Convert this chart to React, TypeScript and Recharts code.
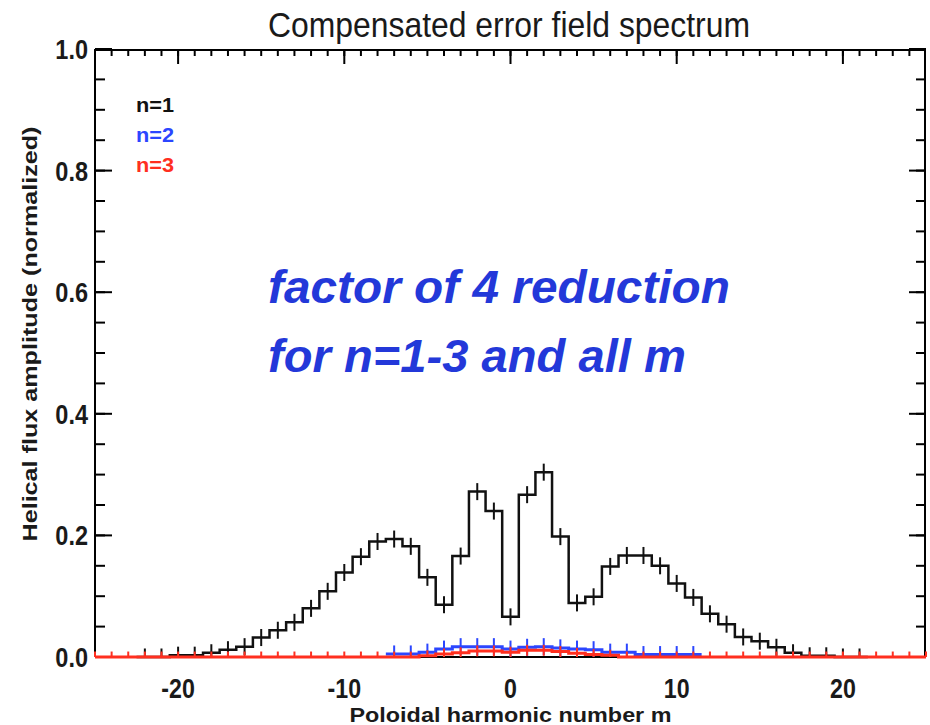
import React from 'react';
import { LineChart, Line, XAxis, YAxis, ErrorBar, Legend } from 'recharts';

const FONT = '"Liberation Sans", Arial, Helvetica, sans-serif';

// n=1 spectrum (poloidal harmonic m -> normalized amplitude)
const N1_M = [-22, -21, -20, -19, -18, -17, -16, -15, -14, -13, -12, -11, -10, -9, -8, -7, -6, -5, -4, -3, -2, -1, 0, 1, 2, 3, 4, 5, 6, 7, 8, 9, 10, 11, 12, 13, 14, 15, 16, 17, 18, 19, 20, 21];
const N1_VALUES = [0, 0, 0.003, 0.003, 0.007, 0.012, 0.017, 0.032, 0.044, 0.057, 0.08, 0.108, 0.139, 0.165, 0.19, 0.194, 0.182, 0.131, 0.086, 0.166, 0.272, 0.24, 0.066, 0.267, 0.304, 0.198, 0.089, 0.099, 0.149, 0.167, 0.167, 0.15, 0.121, 0.098, 0.071, 0.054, 0.033, 0.026, 0.016, 0.007, 0.002, 0.002, 0, 0];
const N1_ERR = 0.014;

// n=2 spectrum
const N2_M = [-7, -6, -5, -4, -3, -2, -1, 0, 1, 2, 3, 4, 5, 6, 7, 8, 9, 10, 11];
const N2_VALUES = [0.005, 0.005, 0.008, 0.013, 0.017, 0.017, 0.017, 0.013, 0.016, 0.017, 0.015, 0.013, 0.012, 0.008, 0.008, 0.004, 0.004, 0.004, 0.004];
const N2_ERR = 0.014;

// n=3 spectrum
const N3_M = [-25, -24, -23, -22, -21, -20, -19, -18, -17, -16, -15, -14, -13, -12, -11, -10, -9, -8, -7, -6, -5, -4, -3, -2, -1, 0, 1, 2, 3, 4, 5, 6, 7, 8, 9, 10, 11, 12, 13, 14, 15, 16, 17, 18, 19, 20, 21, 22, 23, 24, 25];
const N3_VALUES = [0, 0, 0, 0, 0, 0, 0, 0, 0, 0, 0, 0, 0, 0, 0, 0, 0, 0, 0, 0, 0.002, 0.005, 0.007, 0.01, 0.01, 0.008, 0.011, 0.011, 0.009, 0.006, 0.004, 0.003, 0, 0, 0, 0, 0, 0, 0, 0, 0, 0, 0, 0, 0, 0, 0, 0, 0, 0, 0];
const N3_ERR = 0.009;

const X_MAJOR_TICKS = [-20, -10, 0, 10, 20];
const X_MINOR_TICKS = Array.from({ length: 49 }, (_, i) => i - 24);
const Y_MAJOR_TICKS = [0, 0.2, 0.4, 0.6, 0.8, 1.0];
const Y_MINOR_TICKS = Array.from({ length: 21 }, (_, i) => Math.round(i * 5) / 100);

const TITLE = 'Compensated error field spectrum';
const X_LABEL = 'Poloidal harmonic number m';
const Y_LABEL = 'Helical flux amplitude (normalized)';
const NOTE_LINES = ['factor of 4 reduction', 'for n=1-3 and all m'];

const COLORS = { n1: '#111111', n2: '#2b46ff', n3: '#ff2f1f', note: '#2338d9' };

type Pt = { m: number; v: number; e?: [number, number] };

function buildSteps(ms: number[], vals: number[], err: number, pad: boolean): Pt[] {
  const pts: Pt[] = ms.map((m, i) => ({ m, v: vals[i], e: [Math.min(vals[i], err), err] as [number, number] }));
  if (pad) {
    pts.unshift({ m: ms[0] - 0.5, v: vals[0] });
    pts.push({ m: ms[ms.length - 1] + 0.5, v: vals[vals.length - 1] });
  }
  return pts;
}

const n1Data = buildSteps(N1_M, N1_VALUES, N1_ERR, true);
const n2Data = buildSteps(N2_M, N2_VALUES, N2_ERR, true);
const n3Data = buildSteps(N3_M, N3_VALUES, N3_ERR, false);

const NoLabel = () => <g />;

const XTick = (props: any) => {
  const { x, y, payload } = props;
  return (
    <text
      transform={`translate(${x},${y + 41}) scale(0.86,1)`}
      textAnchor="middle"
      fontSize={27}
      fontWeight="bold"
      fontFamily={FONT}
      fill="#1a1a1a"
    >
      {String(payload.value)}
    </text>
  );
};

const YTick = (props: any) => {
  const { x, y, payload } = props;
  return (
    <text
      transform={`translate(${x},${y + 10}) scale(0.84,1)`}
      textAnchor="end"
      fontSize={28}
      fontWeight="bold"
      fontFamily={FONT}
      fill="#1a1a1a"
    >
      {Number(payload.value).toFixed(1)}
    </text>
  );
};

const XLabel = (props: any) => {
  const vb = props.viewBox || { x: 95, y: 657, width: 831, height: 68 };
  return (
    <text
      x={vb.x + vb.width / 2}
      y={vb.y + 64.5}
      textAnchor="middle"
      fontSize={21}
      fontWeight="bold"
      fontFamily={FONT}
      fill="#1a1a1a"
      textLength={322}
      lengthAdjust="spacingAndGlyphs"
    >
      {X_LABEL}
    </text>
  );
};

const YLabel = (props: any) => {
  const vb = props.viewBox || { x: 0, y: 49, width: 95, height: 608 };
  const cx = vb.x + 36.7;
  const cy = vb.y + vb.height / 2 - 19;
  return (
    <text
      transform={`translate(${cx},${cy}) rotate(-90)`}
      textAnchor="middle"
      fontSize={21}
      fontWeight="bold"
      fontFamily={FONT}
      fill="#1a1a1a"
      textLength={415}
      lengthAdjust="spacingAndGlyphs"
    >
      {Y_LABEL}
    </text>
  );
};

const LegendContent = (props: any) => {
  const payload = props.payload || [];
  return (
    <svg width={70} height={95} style={{ display: 'block', overflow: 'visible' }}>
      {payload.map((entry: any, i: number) => (
        <text
          key={i}
          x={6}
          y={22 + i * 30}
          fontSize={21}
          fontWeight="bold"
          fontFamily={FONT}
          fill={entry.color}
          textLength={38}
          lengthAdjust="spacingAndGlyphs"
        >
          {entry.value}
        </text>
      ))}
    </svg>
  );
};

const tickStroke = { stroke: '#000', strokeWidth: 2 };
const axisStroke = { stroke: '#000', strokeWidth: 2 };

export default function App() {
  return (
    <div style={{ position: 'absolute', left: 0, top: 0, width: 930, height: 725, background: '#fff' }}>
      <LineChart width={930} height={725} margin={{ top: 49, right: 4, bottom: 0, left: 0 }}>
        {/* main axes */}
        <XAxis
          xAxisId="b"
          type="number"
          dataKey="m"
          orientation="bottom"
          domain={[-25, 25]}
          ticks={X_MAJOR_TICKS}
          interval={0}
          height={68}
          tickLine={false}
          tickSize={0}
          tickMargin={0}
          axisLine={axisStroke}
          tick={<XTick />}
          label={<XLabel />}
        />
        <XAxis xAxisId="tMin" type="number" dataKey="m" orientation="top" mirror height={1} domain={[-25, 25]} allowDataOverflow ticks={X_MINOR_TICKS} interval={0} tick={<NoLabel />} tickSize={6} tickLine={tickStroke} axisLine={axisStroke} />
        <XAxis xAxisId="tMaj" type="number" dataKey="m" orientation="top" mirror height={1} domain={[-25, 25]} allowDataOverflow ticks={X_MAJOR_TICKS} interval={0} tick={<NoLabel />} tickSize={15} tickLine={tickStroke} axisLine={false} />

        <YAxis
          yAxisId="l"
          type="number"
          orientation="left"
          domain={[0, 1]}
          ticks={Y_MAJOR_TICKS}
          interval={0}
          width={95}
          tickLine={false}
          tickSize={0}
          tickMargin={7}
          axisLine={axisStroke}
          tick={<YTick />}
          label={<YLabel />}
        />
        <YAxis yAxisId="lMin" type="number" orientation="left" mirror width={1} domain={[0, 1]} allowDataOverflow ticks={Y_MINOR_TICKS} interval={0} tick={<NoLabel />} tickSize={9} tickLine={tickStroke} axisLine={false} />
        <YAxis yAxisId="lMaj" type="number" orientation="left" mirror width={1} domain={[0, 1]} allowDataOverflow ticks={Y_MAJOR_TICKS} interval={0} tick={<NoLabel />} tickSize={17} tickLine={tickStroke} axisLine={false} />
        <YAxis yAxisId="rMin" type="number" orientation="right" mirror width={1} domain={[0, 1]} allowDataOverflow ticks={Y_MINOR_TICKS} interval={0} tick={<NoLabel />} tickSize={9} tickLine={tickStroke} axisLine={axisStroke} />
        <YAxis yAxisId="rMaj" type="number" orientation="right" mirror width={1} domain={[0, 1]} allowDataOverflow ticks={Y_MAJOR_TICKS} interval={0} tick={<NoLabel />} tickSize={17} tickLine={tickStroke} axisLine={false} />

        <Legend
          layout="vertical"
          align="center"
          verticalAlign="middle"
          content={<LegendContent />}
          wrapperStyle={{ position: 'absolute', left: 130, top: 90, width: 70, height: 95 }}
        />

        <Line
          name="n=1"
          data={n1Data}
          dataKey="v"
          xAxisId="b"
          yAxisId="l"
          type="step"
          stroke={COLORS.n1}
          strokeWidth={2.5}
          dot={false}
          activeDot={false}
          isAnimationActive={false}
          {...({ zIndex: 610 } as any)}
        >
          <ErrorBar dataKey="e" direction="y" width={0} stroke={COLORS.n1} strokeWidth={2} isAnimationActive={false} {...({ zIndex: 610 } as any)} />
        </Line>
        <Line
          name="n=2"
          data={n2Data}
          dataKey="v"
          xAxisId="b"
          yAxisId="l"
          type="step"
          stroke={COLORS.n2}
          strokeWidth={3}
          dot={false}
          activeDot={false}
          isAnimationActive={false}
          {...({ zIndex: 620 } as any)}
        >
          <ErrorBar dataKey="e" direction="y" width={0} stroke={COLORS.n2} strokeWidth={2} isAnimationActive={false} {...({ zIndex: 620 } as any)} />
        </Line>
        <Line
          name="n=3"
          data={n3Data}
          dataKey="v"
          xAxisId="b"
          yAxisId="l"
          type="step"
          stroke={COLORS.n3}
          strokeWidth={3}
          dot={false}
          activeDot={false}
          isAnimationActive={false}
          {...({ zIndex: 630 } as any)}
        >
          <ErrorBar dataKey="e" direction="y" width={0} stroke={COLORS.n3} strokeWidth={2} isAnimationActive={false} {...({ zIndex: 630 } as any)} />
        </Line>
      </LineChart>

      <svg
        width={930}
        height={725}
        style={{ position: 'absolute', left: 0, top: 0, pointerEvents: 'none' }}
      >
        <text
          x={509}
          y={37}
          textAnchor="middle"
          fontSize={35}
          fontFamily={FONT}
          fill="#1a1a1a"
          textLength={482}
          lengthAdjust="spacingAndGlyphs"
        >
          {TITLE}
        </text>
        <text
          x={268}
          y={303}
          fontSize={47}
          fontWeight="bold"
          fontStyle="italic"
          fontFamily={FONT}
          fill={COLORS.note}
          textLength={462}
          lengthAdjust="spacingAndGlyphs"
        >
          {NOTE_LINES[0]}
        </text>
        <text
          x={268}
          y={372}
          fontSize={47}
          fontWeight="bold"
          fontStyle="italic"
          fontFamily={FONT}
          fill={COLORS.note}
          textLength={418}
          lengthAdjust="spacingAndGlyphs"
        >
          {NOTE_LINES[1]}
        </text>
      </svg>
    </div>
  );
}
